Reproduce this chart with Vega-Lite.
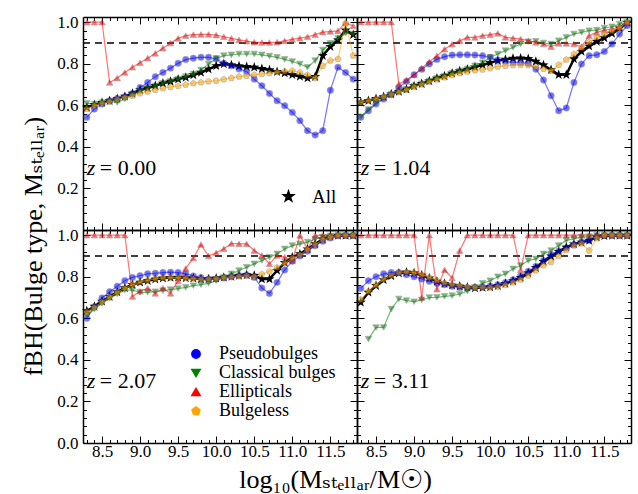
{
"$schema": "https://vega.github.io/schema/vega-lite/v6.json",
"padding": {"left": 20, "top": 13, "right": 5, "bottom": 4},
"background": "white",
"bounds": "flush",
"spacing": 0,
"columns": 2,
"config": {
  "font": "'Liberation Serif', 'Times New Roman', 'DejaVu Serif', serif",
  "view": {"stroke": null},
  "axis": {"grid": false, "domainColor": "black", "domainWidth": 1.5, "tickColor": "black", "tickWidth": 1, "labelColor": "black", "labelFont": "'Liberation Serif', 'Times New Roman', 'DejaVu Serif', serif", "labelFontSize": 17, "titleFont": "'Liberation Serif', 'Times New Roman', 'DejaVu Serif', serif", "titleFontWeight": "normal", "titleColor": "black"},
  "legend": {"labelFont": "'Liberation Serif', 'Times New Roman', 'DejaVu Serif', serif"},
  "text": {"font": "'Liberation Serif', 'Times New Roman', 'DejaVu Serif', serif", "fontSize": 22, "color": "black"}
},
"resolve": {"legend": {"color": "independent", "shape": "independent"}},
"datasets": {
"a": [
{"s":"P","x":8.3,"y":0.542},{"s":"P","x":8.4,"y":0.582},{"s":"P","x":8.5,"y":0.606},{"s":"P","x":8.6,"y":0.622},{"s":"P","x":8.7,"y":0.633},{"s":"P","x":8.8,"y":0.642},{"s":"P","x":8.9,"y":0.657},{"s":"P","x":9,"y":0.686},{"s":"P","x":9.1,"y":0.71},{"s":"P","x":9.2,"y":0.738},{"s":"P","x":9.3,"y":0.758},{"s":"P","x":9.4,"y":0.779},{"s":"P","x":9.5,"y":0.802},{"s":"P","x":9.6,"y":0.82},{"s":"P","x":9.7,"y":0.827},{"s":"P","x":9.8,"y":0.831},{"s":"P","x":9.9,"y":0.831},{"s":"P","x":10,"y":0.823},{"s":"P","x":10.1,"y":0.802},{"s":"P","x":10.2,"y":0.79},{"s":"P","x":10.3,"y":0.775},{"s":"P","x":10.4,"y":0.762},{"s":"P","x":10.5,"y":0.726},{"s":"P","x":10.6,"y":0.694},{"s":"P","x":10.7,"y":0.657},{"s":"P","x":10.8,"y":0.622},{"s":"P","x":10.9,"y":0.598},{"s":"P","x":11,"y":0.566},{"s":"P","x":11.1,"y":0.526},{"s":"P","x":11.2,"y":0.478},{"s":"P","x":11.3,"y":0.457},{"s":"P","x":11.4,"y":0.478},{"s":"P","x":11.5,"y":0.673},{"s":"P","x":11.6,"y":0.783},{"s":"P","x":11.7,"y":0.758},{"s":"P","x":11.8,"y":0.726},
{"s":"C","x":8.3,"y":0.609},{"s":"C","x":8.4,"y":0.606},{"s":"C","x":8.5,"y":0.613},{"s":"C","x":8.6,"y":0.619},{"s":"C","x":8.7,"y":0.613},{"s":"C","x":8.8,"y":0.63},{"s":"C","x":8.9,"y":0.651},{"s":"C","x":9,"y":0.667},{"s":"C","x":9.1,"y":0.682},{"s":"C","x":9.2,"y":0.693},{"s":"C","x":9.3,"y":0.706},{"s":"C","x":9.4,"y":0.715},{"s":"C","x":9.5,"y":0.726},{"s":"C","x":9.6,"y":0.738},{"s":"C","x":9.7,"y":0.75},{"s":"C","x":9.8,"y":0.77},{"s":"C","x":9.9,"y":0.799},{"s":"C","x":10,"y":0.826},{"s":"C","x":10.1,"y":0.839},{"s":"C","x":10.2,"y":0.843},{"s":"C","x":10.3,"y":0.847},{"s":"C","x":10.4,"y":0.847},{"s":"C","x":10.5,"y":0.847},{"s":"C","x":10.6,"y":0.843},{"s":"C","x":10.7,"y":0.837},{"s":"C","x":10.8,"y":0.831},{"s":"C","x":10.9,"y":0.821},{"s":"C","x":11,"y":0.811},{"s":"C","x":11.1,"y":0.799},{"s":"C","x":11.2,"y":0.783},{"s":"C","x":11.3,"y":0.815},{"s":"C","x":11.4,"y":0.866},{"s":"C","x":11.5,"y":0.898},{"s":"C","x":11.6,"y":0.922},{"s":"C","x":11.7,"y":0.946},{"s":"C","x":11.8,"y":0.943},
{"s":"E","x":8.3,"y":1.0},{"s":"E","x":8.4,"y":1.0},{"s":"E","x":8.5,"y":1.0},{"s":"E","x":8.6,"y":0.71},{"s":"E","x":8.7,"y":0.731},{"s":"E","x":8.8,"y":0.758},{"s":"E","x":8.9,"y":0.783},{"s":"E","x":9,"y":0.805},{"s":"E","x":9.1,"y":0.827},{"s":"E","x":9.2,"y":0.85},{"s":"E","x":9.3,"y":0.875},{"s":"E","x":9.4,"y":0.9},{"s":"E","x":9.5,"y":0.922},{"s":"E","x":9.6,"y":0.935},{"s":"E","x":9.7,"y":0.94},{"s":"E","x":9.8,"y":0.941},{"s":"E","x":9.9,"y":0.941},{"s":"E","x":10,"y":0.938},{"s":"E","x":10.1,"y":0.93},{"s":"E","x":10.2,"y":0.922},{"s":"E","x":10.3,"y":0.915},{"s":"E","x":10.4,"y":0.909},{"s":"E","x":10.5,"y":0.904},{"s":"E","x":10.6,"y":0.902},{"s":"E","x":10.7,"y":0.902},{"s":"E","x":10.8,"y":0.904},{"s":"E","x":10.9,"y":0.91},{"s":"E","x":11,"y":0.917},{"s":"E","x":11.1,"y":0.923},{"s":"E","x":11.2,"y":0.93},{"s":"E","x":11.3,"y":0.94},{"s":"E","x":11.4,"y":0.952},{"s":"E","x":11.5,"y":0.955},{"s":"E","x":11.6,"y":0.958},{"s":"E","x":11.7,"y":0.999},{"s":"E","x":11.8,"y":0.982},
{"s":"B","x":8.3,"y":0.582},{"s":"B","x":8.4,"y":0.598},{"s":"B","x":8.5,"y":0.609},{"s":"B","x":8.6,"y":0.617},{"s":"B","x":8.7,"y":0.629},{"s":"B","x":8.8,"y":0.638},{"s":"B","x":8.9,"y":0.646},{"s":"B","x":9,"y":0.657},{"s":"B","x":9.1,"y":0.666},{"s":"B","x":9.2,"y":0.674},{"s":"B","x":9.3,"y":0.682},{"s":"B","x":9.4,"y":0.688},{"s":"B","x":9.5,"y":0.693},{"s":"B","x":9.6,"y":0.699},{"s":"B","x":9.7,"y":0.706},{"s":"B","x":9.8,"y":0.71},{"s":"B","x":9.9,"y":0.715},{"s":"B","x":10,"y":0.718},{"s":"B","x":10.1,"y":0.725},{"s":"B","x":10.2,"y":0.731},{"s":"B","x":10.3,"y":0.738},{"s":"B","x":10.4,"y":0.742},{"s":"B","x":10.5,"y":0.747},{"s":"B","x":10.6,"y":0.75},{"s":"B","x":10.7,"y":0.755},{"s":"B","x":10.8,"y":0.76},{"s":"B","x":10.9,"y":0.763},{"s":"B","x":11,"y":0.766},{"s":"B","x":11.1,"y":0.758},{"s":"B","x":11.2,"y":0.746},{"s":"B","x":11.3,"y":0.731},{"s":"B","x":11.4,"y":0.79},{"s":"B","x":11.5,"y":0.815},{"s":"B","x":11.6,"y":0.823},{"s":"B","x":11.7,"y":0.994},{"s":"B","x":11.8,"y":0.839},
{"s":"A","x":8.3,"y":0.59},{"s":"A","x":8.4,"y":0.603},{"s":"A","x":8.5,"y":0.613},{"s":"A","x":8.6,"y":0.622},{"s":"A","x":8.7,"y":0.632},{"s":"A","x":8.8,"y":0.643},{"s":"A","x":8.9,"y":0.657},{"s":"A","x":9,"y":0.674},{"s":"A","x":9.1,"y":0.683},{"s":"A","x":9.2,"y":0.694},{"s":"A","x":9.3,"y":0.706},{"s":"A","x":9.4,"y":0.715},{"s":"A","x":9.5,"y":0.726},{"s":"A","x":9.6,"y":0.734},{"s":"A","x":9.7,"y":0.746},{"s":"A","x":9.8,"y":0.758},{"s":"A","x":9.9,"y":0.774},{"s":"A","x":10,"y":0.79},{"s":"A","x":10.1,"y":0.799},{"s":"A","x":10.2,"y":0.794},{"s":"A","x":10.3,"y":0.789},{"s":"A","x":10.4,"y":0.786},{"s":"A","x":10.5,"y":0.783},{"s":"A","x":10.6,"y":0.776},{"s":"A","x":10.7,"y":0.77},{"s":"A","x":10.8,"y":0.762},{"s":"A","x":10.9,"y":0.755},{"s":"A","x":11,"y":0.747},{"s":"A","x":11.1,"y":0.739},{"s":"A","x":11.2,"y":0.731},{"s":"A","x":11.3,"y":0.738},{"s":"A","x":11.4,"y":0.839},{"s":"A","x":11.5,"y":0.882},{"s":"A","x":11.6,"y":0.914},{"s":"A","x":11.7,"y":0.962},{"s":"A","x":11.8,"y":0.94}
],
"b": [
{"s":"P","x":8.3,"y":0.542},{"s":"P","x":8.4,"y":0.574},{"s":"P","x":8.5,"y":0.606},{"s":"P","x":8.6,"y":0.63},{"s":"P","x":8.7,"y":0.651},{"s":"P","x":8.8,"y":0.686},{"s":"P","x":8.9,"y":0.715},{"s":"P","x":9,"y":0.747},{"s":"P","x":9.1,"y":0.773},{"s":"P","x":9.2,"y":0.799},{"s":"P","x":9.3,"y":0.821},{"s":"P","x":9.4,"y":0.834},{"s":"P","x":9.5,"y":0.842},{"s":"P","x":9.6,"y":0.843},{"s":"P","x":9.7,"y":0.843},{"s":"P","x":9.8,"y":0.842},{"s":"P","x":9.9,"y":0.839},{"s":"P","x":10,"y":0.831},{"s":"P","x":10.1,"y":0.818},{"s":"P","x":10.2,"y":0.811},{"s":"P","x":10.3,"y":0.806},{"s":"P","x":10.4,"y":0.806},{"s":"P","x":10.5,"y":0.802},{"s":"P","x":10.6,"y":0.774},{"s":"P","x":10.7,"y":0.722},{"s":"P","x":10.8,"y":0.646},{"s":"P","x":10.9,"y":0.574},{"s":"P","x":11,"y":0.587},{"s":"P","x":11.1,"y":0.71},{"s":"P","x":11.2,"y":0.799},{"s":"P","x":11.3,"y":0.839},{"s":"P","x":11.4,"y":0.843},{"s":"P","x":11.5,"y":0.859},{"s":"P","x":11.6,"y":0.895},{"s":"P","x":11.7,"y":0.943},{"s":"P","x":11.8,"y":0.983},
{"s":"C","x":8.3,"y":0.545},{"s":"C","x":8.4,"y":0.58},{"s":"C","x":8.5,"y":0.612},{"s":"C","x":8.6,"y":0.635},{"s":"C","x":8.7,"y":0.652},{"s":"C","x":8.8,"y":0.666},{"s":"C","x":8.9,"y":0.677},{"s":"C","x":9,"y":0.693},{"s":"C","x":9.1,"y":0.704},{"s":"C","x":9.2,"y":0.717},{"s":"C","x":9.3,"y":0.73},{"s":"C","x":9.4,"y":0.741},{"s":"C","x":9.5,"y":0.754},{"s":"C","x":9.6,"y":0.765},{"s":"C","x":9.7,"y":0.775},{"s":"C","x":9.8,"y":0.79},{"s":"C","x":9.9,"y":0.805},{"s":"C","x":10,"y":0.831},{"s":"C","x":10.1,"y":0.847},{"s":"C","x":10.2,"y":0.863},{"s":"C","x":10.3,"y":0.879},{"s":"C","x":10.4,"y":0.895},{"s":"C","x":10.5,"y":0.906},{"s":"C","x":10.6,"y":0.908},{"s":"C","x":10.7,"y":0.9},{"s":"C","x":10.8,"y":0.895},{"s":"C","x":10.9,"y":0.911},{"s":"C","x":11,"y":0.927},{"s":"C","x":11.1,"y":0.943},{"s":"C","x":11.2,"y":0.951},{"s":"C","x":11.3,"y":0.959},{"s":"C","x":11.4,"y":0.962},{"s":"C","x":11.5,"y":0.972},{"s":"C","x":11.6,"y":0.978},{"s":"C","x":11.7,"y":0.991},{"s":"C","x":11.8,"y":0.999},
{"s":"E","x":8.3,"y":1.0},{"s":"E","x":8.4,"y":1.0},{"s":"E","x":8.5,"y":1.0},{"s":"E","x":8.6,"y":1.0},{"s":"E","x":8.7,"y":1.0},{"s":"E","x":8.8,"y":0.702},{"s":"E","x":8.9,"y":0.722},{"s":"E","x":9,"y":0.747},{"s":"E","x":9.1,"y":0.779},{"s":"E","x":9.2,"y":0.81},{"s":"E","x":9.3,"y":0.838},{"s":"E","x":9.4,"y":0.87},{"s":"E","x":9.5,"y":0.894},{"s":"E","x":9.6,"y":0.91},{"s":"E","x":9.7,"y":0.927},{"s":"E","x":9.8,"y":0.927},{"s":"E","x":9.9,"y":0.935},{"s":"E","x":10,"y":0.94},{"s":"E","x":10.1,"y":0.946},{"s":"E","x":10.2,"y":0.927},{"s":"E","x":10.3,"y":0.923},{"s":"E","x":10.4,"y":0.919},{"s":"E","x":10.5,"y":0.911},{"s":"E","x":10.6,"y":0.903},{"s":"E","x":10.7,"y":0.895},{"s":"E","x":10.8,"y":0.882},{"s":"E","x":10.9,"y":0.898},{"s":"E","x":11,"y":0.898},{"s":"E","x":11.1,"y":0.895},{"s":"E","x":11.2,"y":0.882},{"s":"E","x":11.3,"y":0.935},{"s":"E","x":11.4,"y":0.951},{"s":"E","x":11.5,"y":0.962},{"s":"E","x":11.6,"y":0.967},{"s":"E","x":11.7,"y":0.975},{"s":"E","x":11.8,"y":0.999},
{"s":"B","x":8.3,"y":0.614},{"s":"B","x":8.4,"y":0.622},{"s":"B","x":8.5,"y":0.632},{"s":"B","x":8.6,"y":0.641},{"s":"B","x":8.7,"y":0.652},{"s":"B","x":8.8,"y":0.663},{"s":"B","x":8.9,"y":0.674},{"s":"B","x":9,"y":0.688},{"s":"B","x":9.1,"y":0.7},{"s":"B","x":9.2,"y":0.712},{"s":"B","x":9.3,"y":0.724},{"s":"B","x":9.4,"y":0.734},{"s":"B","x":9.5,"y":0.745},{"s":"B","x":9.6,"y":0.754},{"s":"B","x":9.7,"y":0.762},{"s":"B","x":9.8,"y":0.768},{"s":"B","x":9.9,"y":0.772},{"s":"B","x":10,"y":0.778},{"s":"B","x":10.1,"y":0.786},{"s":"B","x":10.2,"y":0.79},{"s":"B","x":10.3,"y":0.793},{"s":"B","x":10.4,"y":0.795},{"s":"B","x":10.5,"y":0.793},{"s":"B","x":10.6,"y":0.785},{"s":"B","x":10.7,"y":0.775},{"s":"B","x":10.8,"y":0.766},{"s":"B","x":10.9,"y":0.795},{"s":"B","x":11,"y":0.82},{"s":"B","x":11.1,"y":0.846},{"s":"B","x":11.2,"y":0.878},{"s":"B","x":11.3,"y":0.903},{"s":"B","x":11.4,"y":0.927},{"s":"B","x":11.5,"y":0.943},{"s":"B","x":11.6,"y":0.959},{"s":"B","x":11.7,"y":0.975},{"s":"B","x":11.8,"y":0.999},
{"s":"A","x":8.3,"y":0.614},{"s":"A","x":8.4,"y":0.622},{"s":"A","x":8.5,"y":0.632},{"s":"A","x":8.6,"y":0.641},{"s":"A","x":8.7,"y":0.654},{"s":"A","x":8.8,"y":0.666},{"s":"A","x":8.9,"y":0.677},{"s":"A","x":9,"y":0.693},{"s":"A","x":9.1,"y":0.704},{"s":"A","x":9.2,"y":0.717},{"s":"A","x":9.3,"y":0.73},{"s":"A","x":9.4,"y":0.741},{"s":"A","x":9.5,"y":0.754},{"s":"A","x":9.6,"y":0.765},{"s":"A","x":9.7,"y":0.773},{"s":"A","x":9.8,"y":0.784},{"s":"A","x":9.9,"y":0.794},{"s":"A","x":10,"y":0.805},{"s":"A","x":10.1,"y":0.815},{"s":"A","x":10.2,"y":0.821},{"s":"A","x":10.3,"y":0.826},{"s":"A","x":10.4,"y":0.827},{"s":"A","x":10.5,"y":0.824},{"s":"A","x":10.6,"y":0.811},{"s":"A","x":10.7,"y":0.794},{"s":"A","x":10.8,"y":0.771},{"s":"A","x":10.9,"y":0.747},{"s":"A","x":11,"y":0.747},{"s":"A","x":11.1,"y":0.823},{"s":"A","x":11.2,"y":0.859},{"s":"A","x":11.3,"y":0.885},{"s":"A","x":11.4,"y":0.907},{"s":"A","x":11.5,"y":0.924},{"s":"A","x":11.6,"y":0.946},{"s":"A","x":11.7,"y":0.972},{"s":"A","x":11.8,"y":0.999}
],
"c": [
{"s":"P","x":8.3,"y":0.6},{"s":"P","x":8.4,"y":0.656},{"s":"P","x":8.5,"y":0.698},{"s":"P","x":8.6,"y":0.728},{"s":"P","x":8.7,"y":0.754},{"s":"P","x":8.8,"y":0.781},{"s":"P","x":8.9,"y":0.797},{"s":"P","x":9,"y":0.805},{"s":"P","x":9.1,"y":0.814},{"s":"P","x":9.2,"y":0.817},{"s":"P","x":9.3,"y":0.82},{"s":"P","x":9.4,"y":0.822},{"s":"P","x":9.5,"y":0.82},{"s":"P","x":9.6,"y":0.814},{"s":"P","x":9.7,"y":0.804},{"s":"P","x":9.8,"y":0.796},{"s":"P","x":9.9,"y":0.789},{"s":"P","x":10,"y":0.789},{"s":"P","x":10.1,"y":0.794},{"s":"P","x":10.2,"y":0.801},{"s":"P","x":10.3,"y":0.806},{"s":"P","x":10.4,"y":0.809},{"s":"P","x":10.5,"y":0.797},{"s":"P","x":10.6,"y":0.746},{"s":"P","x":10.7,"y":0.72},{"s":"P","x":10.8,"y":0.773},{"s":"P","x":10.9,"y":0.833},{"s":"P","x":11,"y":0.875},{"s":"P","x":11.1,"y":0.9},{"s":"P","x":11.2,"y":0.923},{"s":"P","x":11.3,"y":0.949},{"s":"P","x":11.4,"y":0.971},{"s":"P","x":11.5,"y":0.987},{"s":"P","x":11.6,"y":0.997},{"s":"P","x":11.7,"y":0.999},{"s":"P","x":11.8,"y":0.999},
{"s":"C","x":8.3,"y":0.615},{"s":"C","x":8.4,"y":0.644},{"s":"C","x":8.5,"y":0.672},{"s":"C","x":8.6,"y":0.696},{"s":"C","x":8.7,"y":0.717},{"s":"C","x":8.8,"y":0.736},{"s":"C","x":8.9,"y":0.736},{"s":"C","x":9,"y":0.725},{"s":"C","x":9.1,"y":0.725},{"s":"C","x":9.2,"y":0.728},{"s":"C","x":9.3,"y":0.733},{"s":"C","x":9.4,"y":0.738},{"s":"C","x":9.5,"y":0.743},{"s":"C","x":9.6,"y":0.749},{"s":"C","x":9.7,"y":0.757},{"s":"C","x":9.8,"y":0.762},{"s":"C","x":9.9,"y":0.768},{"s":"C","x":10,"y":0.781},{"s":"C","x":10.1,"y":0.797},{"s":"C","x":10.2,"y":0.814},{"s":"C","x":10.3,"y":0.83},{"s":"C","x":10.4,"y":0.846},{"s":"C","x":10.5,"y":0.862},{"s":"C","x":10.6,"y":0.878},{"s":"C","x":10.7,"y":0.894},{"s":"C","x":10.8,"y":0.91},{"s":"C","x":10.9,"y":0.934},{"s":"C","x":11,"y":0.95},{"s":"C","x":11.1,"y":0.958},{"s":"C","x":11.2,"y":0.967},{"s":"C","x":11.3,"y":0.981},{"s":"C","x":11.4,"y":0.991},{"s":"C","x":11.5,"y":0.997},{"s":"C","x":11.6,"y":0.999},{"s":"C","x":11.7,"y":0.999},{"s":"C","x":11.8,"y":0.999},
{"s":"E","x":8.3,"y":1.0},{"s":"E","x":8.4,"y":1.0},{"s":"E","x":8.5,"y":1.0},{"s":"E","x":8.6,"y":1.0},{"s":"E","x":8.7,"y":1.0},{"s":"E","x":8.8,"y":1.0},{"s":"E","x":8.9,"y":0.705},{"s":"E","x":9,"y":0.73},{"s":"E","x":9.1,"y":0.745},{"s":"E","x":9.2,"y":0.72},{"s":"E","x":9.3,"y":0.745},{"s":"E","x":9.4,"y":0.72},{"s":"E","x":9.5,"y":0.78},{"s":"E","x":9.6,"y":0.84},{"s":"E","x":9.7,"y":0.89},{"s":"E","x":9.8,"y":0.955},{"s":"E","x":9.9,"y":0.9},{"s":"E","x":10,"y":0.915},{"s":"E","x":10.1,"y":0.935},{"s":"E","x":10.2,"y":0.96},{"s":"E","x":10.3,"y":0.958},{"s":"E","x":10.4,"y":0.958},{"s":"E","x":10.5,"y":0.926},{"s":"E","x":10.6,"y":0.902},{"s":"E","x":10.7,"y":0.862},{"s":"E","x":10.8,"y":0.902},{"s":"E","x":10.9,"y":0.894},{"s":"E","x":11,"y":0.878},{"s":"E","x":11.1,"y":0.999},{"s":"E","x":11.2,"y":0.934},{"s":"E","x":11.3,"y":0.999},{"s":"E","x":11.4,"y":0.999},{"s":"E","x":11.5,"y":0.999},{"s":"E","x":11.6,"y":0.999},{"s":"E","x":11.7,"y":0.999},{"s":"E","x":11.8,"y":0.999},
{"s":"B","x":8.3,"y":0.63},{"s":"B","x":8.4,"y":0.652},{"s":"B","x":8.5,"y":0.678},{"s":"B","x":8.6,"y":0.702},{"s":"B","x":8.7,"y":0.725},{"s":"B","x":8.8,"y":0.745},{"s":"B","x":8.9,"y":0.762},{"s":"B","x":9,"y":0.774},{"s":"B","x":9.1,"y":0.783},{"s":"B","x":9.2,"y":0.79},{"s":"B","x":9.3,"y":0.794},{"s":"B","x":9.4,"y":0.796},{"s":"B","x":9.5,"y":0.796},{"s":"B","x":9.6,"y":0.793},{"s":"B","x":9.7,"y":0.791},{"s":"B","x":9.8,"y":0.788},{"s":"B","x":9.9,"y":0.788},{"s":"B","x":10,"y":0.791},{"s":"B","x":10.1,"y":0.795},{"s":"B","x":10.2,"y":0.798},{"s":"B","x":10.3,"y":0.802},{"s":"B","x":10.4,"y":0.805},{"s":"B","x":10.5,"y":0.8},{"s":"B","x":10.6,"y":0.812},{"s":"B","x":10.7,"y":0.825},{"s":"B","x":10.8,"y":0.845},{"s":"B","x":10.9,"y":0.865},{"s":"B","x":11,"y":0.89},{"s":"B","x":11.1,"y":0.905},{"s":"B","x":11.2,"y":0.93},{"s":"B","x":11.3,"y":0.955},{"s":"B","x":11.4,"y":0.978},{"s":"B","x":11.5,"y":0.99},{"s":"B","x":11.6,"y":0.999},{"s":"B","x":11.7,"y":0.999},{"s":"B","x":11.8,"y":0.999},
{"s":"A","x":8.3,"y":0.636},{"s":"A","x":8.4,"y":0.657},{"s":"A","x":8.5,"y":0.682},{"s":"A","x":8.6,"y":0.704},{"s":"A","x":8.7,"y":0.727},{"s":"A","x":8.8,"y":0.746},{"s":"A","x":8.9,"y":0.762},{"s":"A","x":9,"y":0.773},{"s":"A","x":9.1,"y":0.781},{"s":"A","x":9.2,"y":0.788},{"s":"A","x":9.3,"y":0.793},{"s":"A","x":9.4,"y":0.796},{"s":"A","x":9.5,"y":0.797},{"s":"A","x":9.6,"y":0.794},{"s":"A","x":9.7,"y":0.793},{"s":"A","x":9.8,"y":0.789},{"s":"A","x":9.9,"y":0.789},{"s":"A","x":10,"y":0.793},{"s":"A","x":10.1,"y":0.797},{"s":"A","x":10.2,"y":0.801},{"s":"A","x":10.3,"y":0.806},{"s":"A","x":10.4,"y":0.809},{"s":"A","x":10.5,"y":0.806},{"s":"A","x":10.6,"y":0.789},{"s":"A","x":10.7,"y":0.789},{"s":"A","x":10.8,"y":0.83},{"s":"A","x":10.9,"y":0.868},{"s":"A","x":11,"y":0.894},{"s":"A","x":11.1,"y":0.91},{"s":"A","x":11.2,"y":0.933},{"s":"A","x":11.3,"y":0.958},{"s":"A","x":11.4,"y":0.981},{"s":"A","x":11.5,"y":0.994},{"s":"A","x":11.6,"y":0.999},{"s":"A","x":11.7,"y":0.999},{"s":"A","x":11.8,"y":0.999}
],
"d": [
{"s":"P","x":8.3,"y":0.744},{"s":"P","x":8.4,"y":0.781},{"s":"P","x":8.5,"y":0.8},{"s":"P","x":8.6,"y":0.814},{"s":"P","x":8.7,"y":0.82},{"s":"P","x":8.8,"y":0.82},{"s":"P","x":8.9,"y":0.81},{"s":"P","x":9,"y":0.8},{"s":"P","x":9.1,"y":0.789},{"s":"P","x":9.2,"y":0.778},{"s":"P","x":9.3,"y":0.768},{"s":"P","x":9.4,"y":0.762},{"s":"P","x":9.5,"y":0.754},{"s":"P","x":9.6,"y":0.749},{"s":"P","x":9.7,"y":0.746},{"s":"P","x":9.8,"y":0.748},{"s":"P","x":9.9,"y":0.751},{"s":"P","x":10,"y":0.756},{"s":"P","x":10.1,"y":0.762},{"s":"P","x":10.2,"y":0.772},{"s":"P","x":10.3,"y":0.786},{"s":"P","x":10.4,"y":0.804},{"s":"P","x":10.5,"y":0.826},{"s":"P","x":10.6,"y":0.85},{"s":"P","x":10.7,"y":0.878},{"s":"P","x":10.8,"y":0.907},{"s":"P","x":10.9,"y":0.923},{"s":"P","x":11,"y":0.939},{"s":"P","x":11.1,"y":0.955},{"s":"P","x":11.2,"y":0.968},{"s":"P","x":11.3,"y":0.975},{"s":"P","x":11.4,"y":0.994},{"s":"P","x":11.5,"y":0.999},{"s":"P","x":11.6,"y":0.999},{"s":"P","x":11.7,"y":0.999},{"s":"P","x":11.8,"y":0.999},
{"s":"C","x":8.4,"y":0.5},{"s":"C","x":8.5,"y":0.556},{"s":"C","x":8.6,"y":0.556},{"s":"C","x":8.7,"y":0.644},{"s":"C","x":8.8,"y":0.693},{"s":"C","x":8.9,"y":0.685},{"s":"C","x":9,"y":0.68},{"s":"C","x":9.1,"y":0.688},{"s":"C","x":9.2,"y":0.7},{"s":"C","x":9.3,"y":0.701},{"s":"C","x":9.4,"y":0.706},{"s":"C","x":9.5,"y":0.709},{"s":"C","x":9.6,"y":0.717},{"s":"C","x":9.7,"y":0.73},{"s":"C","x":9.8,"y":0.749},{"s":"C","x":9.9,"y":0.768},{"s":"C","x":10,"y":0.781},{"s":"C","x":10.1,"y":0.8},{"s":"C","x":10.2,"y":0.814},{"s":"C","x":10.3,"y":0.838},{"s":"C","x":10.4,"y":0.854},{"s":"C","x":10.5,"y":0.878},{"s":"C","x":10.6,"y":0.886},{"s":"C","x":10.7,"y":0.91},{"s":"C","x":10.8,"y":0.926},{"s":"C","x":10.9,"y":0.95},{"s":"C","x":11,"y":0.975},{"s":"C","x":11.1,"y":0.983},{"s":"C","x":11.2,"y":0.991},{"s":"C","x":11.3,"y":0.994},{"s":"C","x":11.4,"y":0.999},{"s":"C","x":11.5,"y":0.999},{"s":"C","x":11.6,"y":0.999},{"s":"C","x":11.7,"y":0.999},{"s":"C","x":11.8,"y":0.999},
{"s":"E","x":8.3,"y":1.0},{"s":"E","x":8.4,"y":1.0},{"s":"E","x":8.5,"y":1.0},{"s":"E","x":8.6,"y":1.0},{"s":"E","x":8.7,"y":1.0},{"s":"E","x":8.8,"y":1.0},{"s":"E","x":8.9,"y":1.0},{"s":"E","x":9,"y":1.0},{"s":"E","x":9.1,"y":0.7},{"s":"E","x":9.2,"y":1.0},{"s":"E","x":9.3,"y":0.74},{"s":"E","x":9.4,"y":0.833},{"s":"E","x":9.5,"y":0.794},{"s":"E","x":9.6,"y":0.926},{"s":"E","x":9.7,"y":1.0},{"s":"E","x":9.8,"y":1.0},{"s":"E","x":9.9,"y":1.0},{"s":"E","x":10,"y":1.0},{"s":"E","x":10.1,"y":1.0},{"s":"E","x":10.2,"y":1.0},{"s":"E","x":10.3,"y":1.0},{"s":"E","x":10.4,"y":0.833},{"s":"E","x":10.5,"y":1.0},{"s":"E","x":10.6,"y":1.0},{"s":"E","x":10.7,"y":1.0},{"s":"E","x":10.8,"y":1.0},{"s":"E","x":10.9,"y":1.0},{"s":"E","x":11,"y":1.0},{"s":"E","x":11.1,"y":1.0},{"s":"E","x":11.2,"y":1.0},{"s":"E","x":11.3,"y":1.0},{"s":"E","x":11.4,"y":1.0},{"s":"E","x":11.5,"y":1.0},{"s":"E","x":11.6,"y":1.0},{"s":"E","x":11.7,"y":1.0},{"s":"E","x":11.8,"y":1.0},
{"s":"B","x":8.3,"y":0.69},{"s":"B","x":8.4,"y":0.73},{"s":"B","x":8.5,"y":0.76},{"s":"B","x":8.6,"y":0.787},{"s":"B","x":8.7,"y":0.806},{"s":"B","x":8.8,"y":0.819},{"s":"B","x":8.9,"y":0.823},{"s":"B","x":9,"y":0.82},{"s":"B","x":9.1,"y":0.81},{"s":"B","x":9.2,"y":0.797},{"s":"B","x":9.3,"y":0.782},{"s":"B","x":9.4,"y":0.77},{"s":"B","x":9.5,"y":0.762},{"s":"B","x":9.6,"y":0.756},{"s":"B","x":9.7,"y":0.751},{"s":"B","x":9.8,"y":0.748},{"s":"B","x":9.9,"y":0.748},{"s":"B","x":10,"y":0.748},{"s":"B","x":10.1,"y":0.752},{"s":"B","x":10.2,"y":0.76},{"s":"B","x":10.3,"y":0.772},{"s":"B","x":10.4,"y":0.786},{"s":"B","x":10.5,"y":0.806},{"s":"B","x":10.6,"y":0.83},{"s":"B","x":10.7,"y":0.855},{"s":"B","x":10.8,"y":0.87},{"s":"B","x":10.9,"y":0.9},{"s":"B","x":11,"y":0.928},{"s":"B","x":11.1,"y":0.95},{"s":"B","x":11.2,"y":0.96},{"s":"B","x":11.3,"y":0.926},{"s":"B","x":11.4,"y":0.985},{"s":"B","x":11.5,"y":0.999},{"s":"B","x":11.6,"y":0.999},{"s":"B","x":11.7,"y":0.999},{"s":"B","x":11.8,"y":0.999},
{"s":"A","x":8.3,"y":0.677},{"s":"A","x":8.4,"y":0.725},{"s":"A","x":8.5,"y":0.757},{"s":"A","x":8.6,"y":0.785},{"s":"A","x":8.7,"y":0.804},{"s":"A","x":8.8,"y":0.817},{"s":"A","x":8.9,"y":0.822},{"s":"A","x":9,"y":0.818},{"s":"A","x":9.1,"y":0.807},{"s":"A","x":9.2,"y":0.793},{"s":"A","x":9.3,"y":0.778},{"s":"A","x":9.4,"y":0.767},{"s":"A","x":9.5,"y":0.759},{"s":"A","x":9.6,"y":0.754},{"s":"A","x":9.7,"y":0.749},{"s":"A","x":9.8,"y":0.746},{"s":"A","x":9.9,"y":0.748},{"s":"A","x":10,"y":0.751},{"s":"A","x":10.1,"y":0.757},{"s":"A","x":10.2,"y":0.767},{"s":"A","x":10.3,"y":0.78},{"s":"A","x":10.4,"y":0.796},{"s":"A","x":10.5,"y":0.818},{"s":"A","x":10.6,"y":0.843},{"s":"A","x":10.7,"y":0.873},{"s":"A","x":10.8,"y":0.899},{"s":"A","x":10.9,"y":0.921},{"s":"A","x":11,"y":0.942},{"s":"A","x":11.1,"y":0.957},{"s":"A","x":11.2,"y":0.965},{"s":"A","x":11.3,"y":0.975},{"s":"A","x":11.4,"y":0.991},{"s":"A","x":11.5,"y":0.997},{"s":"A","x":11.6,"y":0.999},{"s":"A","x":11.7,"y":0.999},{"s":"A","x":11.8,"y":0.999}
]
},
"concat": [
{"width": 274, "height": 213, "data": {"name": "a"},
 "resolve": {"axis": {"x": "independent", "y": "independent"}},
 "layer": [
  {"data": {"values": [{"x1": 8.25, "x2": 11.85, "y": 0.9}]},
   "mark": {"type": "rule", "strokeDash": [7, 5], "strokeWidth": 1.5, "color": "black"},
   "encoding": {
    "x": {"field": "x1", "type": "quantitative", "scale": {"domain": [8.25, 11.85], "nice": false, "zero": false}, "axis": {"orient": "bottom", "values": [8.5, 9, 9.5, 10, 10.5, 11, 11.5], "labels": false, "tickSize": -7, "title": null}},
    "x2": {"field": "x2"},
    "y": {"field": "y", "type": "quantitative", "scale": {"domain": [0, 1.025], "nice": false}, "axis": {"orient": "left", "values": [0, 0.2, 0.4, 0.6, 0.8, 1.0], "format": ".1f", "labelExpr": "datum.value < 0.01 ? '' : datum.label", "tickSize": -7, "labelPadding": 12, "title": "fBH(Bulge type, Mₛₜₑₗₗₐᵣ)", "titleFontSize": 26, "titleX": -42, "titleY": 229, "titleAlign": "center", "titleBaseline": "alphabetic", "titleAngle": -90}}
   }},
  {"transform": [{"filter": "datum.s == 'A'"}],
   "mark": {"type": "line", "color": "black", "strokeWidth": 2.5},
   "encoding": {
    "x": {"field": "x", "type": "quantitative", "axis": {"orient": "top", "values": [8.5, 9, 9.5, 10, 10.5, 11, 11.5], "labels": false, "tickSize": -7, "title": null}},
    "y": {"field": "y", "type": "quantitative", "axis": {"orient": "right", "values": [0, 0.2, 0.4, 0.6, 0.8, 1.0], "labels": false, "tickSize": -7, "title": null}}
   }},
  {"transform": [{"filter": "datum.s == 'A'"}],
   "mark": {"type": "point", "filled": true, "opacity": 1, "size": 110},
   "encoding": {
    "x": {"field": "x", "type": "quantitative", "axis": null},
    "y": {"field": "y", "type": "quantitative", "axis": null},
    "color": {"field": "s", "type": "nominal", "scale": {"domain": ["P", "C", "E", "B", "A"], "range": ["#0000ff", "#008000", "#ff0000", "#ffa500", "#000000"]}, "legend": {"values": ["A"], "orient": "none", "legendX": 196, "legendY": 170, "title": null, "labelExpr": "'All'", "labelFontSize": 19, "labelColor": "black", "labelOffset": 14, "symbolSize": 120, "symbolOpacity": 1}},
    "shape": {"field": "s", "type": "nominal", "scale": {"domain": ["P", "C", "E", "B", "A"], "range": ["circle", "triangle-down", "triangle-up", "M0,-1L0.951,-0.309L0.588,0.809L-0.588,0.809L-0.951,-0.309Z", "M0,-1L0.235,-0.324L0.951,-0.309L0.38,0.124L0.588,0.809L0,0.4L-0.588,0.809L-0.38,0.124L-0.951,-0.309L-0.235,-0.324Z"]}, "legend": {"values": ["A"], "orient": "none", "legendX": 196, "legendY": 170, "title": null, "labelExpr": "'All'", "labelFontSize": 19, "labelColor": "black", "labelOffset": 14, "symbolSize": 120, "symbolOpacity": 1}}
   }},
  {"transform": [{"filter": "datum.s != 'A'"}],
   "mark": {"type": "line", "strokeWidth": 1.2, "opacity": 0.55},
   "encoding": {
    "x": {"field": "x", "type": "quantitative", "axis": {"orient": "bottom", "values": [8.3, 8.4, 8.6, 8.7, 8.8, 8.9, 9.1, 9.2, 9.3, 9.4, 9.6, 9.7, 9.8, 9.9, 10.1, 10.2, 10.3, 10.4, 10.6, 10.7, 10.8, 10.9, 11.1, 11.2, 11.3, 11.4, 11.6, 11.7, 11.8], "labels": false, "domain": false, "tickSize": -3.5, "title": null}},
    "y": {"field": "y", "type": "quantitative", "axis": {"orient": "left", "values": [0.04, 0.08, 0.12, 0.16, 0.24, 0.28, 0.32, 0.36, 0.44, 0.48, 0.52, 0.56, 0.64, 0.68, 0.72, 0.76, 0.84, 0.88, 0.92, 0.96], "labels": false, "domain": false, "tickSize": -3.5, "title": null}},
    "color": {"field": "s", "type": "nominal", "legend": null}
   }},
  {"transform": [{"filter": "datum.s != 'A'"}],
   "mark": {"type": "point", "filled": true, "opacity": 0.55, "size": 42, "stroke": "#555555", "strokeWidth": 0.6},
   "encoding": {
    "x": {"field": "x", "type": "quantitative", "axis": {"orient": "top", "values": [8.3, 8.4, 8.6, 8.7, 8.8, 8.9, 9.1, 9.2, 9.3, 9.4, 9.6, 9.7, 9.8, 9.9, 10.1, 10.2, 10.3, 10.4, 10.6, 10.7, 10.8, 10.9, 11.1, 11.2, 11.3, 11.4, 11.6, 11.7, 11.8], "labels": false, "domain": false, "tickSize": -3.5, "title": null}},
    "y": {"field": "y", "type": "quantitative", "axis": {"orient": "right", "values": [0.04, 0.08, 0.12, 0.16, 0.24, 0.28, 0.32, 0.36, 0.44, 0.48, 0.52, 0.56, 0.64, 0.68, 0.72, 0.76, 0.84, 0.88, 0.92, 0.96], "labels": false, "domain": false, "tickSize": -3.5, "title": null}},
    "color": {"field": "s", "type": "nominal", "legend": null},
    "shape": {"field": "s", "type": "nominal", "legend": null}
   }},
  {"data": {"values": [{"t": "z"}]},
   "mark": {"type": "text", "align": "left", "baseline": "middle", "fontStyle": "italic"},
   "encoding": {"x": {"datum": 8.3, "type": "quantitative", "axis": null}, "y": {"datum": 0.3, "type": "quantitative", "axis": null}, "text": {"field": "t"}}},
  {"data": {"values": [{"t": "= 0.00"}]},
   "mark": {"type": "text", "align": "left", "baseline": "middle", "dx": 13},
   "encoding": {"x": {"datum": 8.3, "type": "quantitative", "axis": null}, "y": {"datum": 0.3, "type": "quantitative", "axis": null}, "text": {"field": "t"}}}
 ]},
{"width": 274, "height": 213, "data": {"name": "b"},
 "resolve": {"axis": {"x": "independent", "y": "independent"}},
 "layer": [
  {"data": {"values": [{"x1": 8.25, "x2": 11.85, "y": 0.9}]},
   "mark": {"type": "rule", "strokeDash": [7, 5], "strokeWidth": 1.5, "color": "black"},
   "encoding": {
    "x": {"field": "x1", "type": "quantitative", "scale": {"domain": [8.25, 11.85], "nice": false, "zero": false}, "axis": {"orient": "bottom", "values": [8.5, 9, 9.5, 10, 10.5, 11, 11.5], "labels": false, "tickSize": -7, "title": null}},
    "x2": {"field": "x2"},
    "y": {"field": "y", "type": "quantitative", "scale": {"domain": [0, 1.025], "nice": false}, "axis": {"orient": "left", "values": [0, 0.2, 0.4, 0.6, 0.8, 1.0], "labels": false, "tickSize": -7, "title": null}}
   }},
  {"transform": [{"filter": "datum.s == 'A'"}],
   "mark": {"type": "line", "color": "black", "strokeWidth": 2.5},
   "encoding": {
    "x": {"field": "x", "type": "quantitative", "axis": {"orient": "top", "values": [8.5, 9, 9.5, 10, 10.5, 11, 11.5], "labels": false, "tickSize": -7, "title": null}},
    "y": {"field": "y", "type": "quantitative", "axis": {"orient": "right", "values": [0, 0.2, 0.4, 0.6, 0.8, 1.0], "labels": false, "tickSize": -7, "title": null}}
   }},
  {"transform": [{"filter": "datum.s == 'A'"}],
   "mark": {"type": "point", "filled": true, "opacity": 1, "size": 110},
   "encoding": {
    "x": {"field": "x", "type": "quantitative", "axis": null},
    "y": {"field": "y", "type": "quantitative", "axis": null},
    "color": {"field": "s", "type": "nominal", "scale": {"domain": ["P", "C", "E", "B", "A"], "range": ["#0000ff", "#008000", "#ff0000", "#ffa500", "#000000"]}, "legend": null},
    "shape": {"field": "s", "type": "nominal", "scale": {"domain": ["P", "C", "E", "B", "A"], "range": ["circle", "triangle-down", "triangle-up", "M0,-1L0.951,-0.309L0.588,0.809L-0.588,0.809L-0.951,-0.309Z", "M0,-1L0.235,-0.324L0.951,-0.309L0.38,0.124L0.588,0.809L0,0.4L-0.588,0.809L-0.38,0.124L-0.951,-0.309L-0.235,-0.324Z"]}, "legend": null}
   }},
  {"transform": [{"filter": "datum.s != 'A'"}],
   "mark": {"type": "line", "strokeWidth": 1.2, "opacity": 0.55},
   "encoding": {
    "x": {"field": "x", "type": "quantitative", "axis": {"orient": "bottom", "values": [8.3, 8.4, 8.6, 8.7, 8.8, 8.9, 9.1, 9.2, 9.3, 9.4, 9.6, 9.7, 9.8, 9.9, 10.1, 10.2, 10.3, 10.4, 10.6, 10.7, 10.8, 10.9, 11.1, 11.2, 11.3, 11.4, 11.6, 11.7, 11.8], "labels": false, "domain": false, "tickSize": -3.5, "title": null}},
    "y": {"field": "y", "type": "quantitative", "axis": {"orient": "left", "values": [0.04, 0.08, 0.12, 0.16, 0.24, 0.28, 0.32, 0.36, 0.44, 0.48, 0.52, 0.56, 0.64, 0.68, 0.72, 0.76, 0.84, 0.88, 0.92, 0.96], "labels": false, "domain": false, "tickSize": -3.5, "title": null}},
    "color": {"field": "s", "type": "nominal", "legend": null}
   }},
  {"transform": [{"filter": "datum.s != 'A'"}],
   "mark": {"type": "point", "filled": true, "opacity": 0.55, "size": 42, "stroke": "#555555", "strokeWidth": 0.6},
   "encoding": {
    "x": {"field": "x", "type": "quantitative", "axis": {"orient": "top", "values": [8.3, 8.4, 8.6, 8.7, 8.8, 8.9, 9.1, 9.2, 9.3, 9.4, 9.6, 9.7, 9.8, 9.9, 10.1, 10.2, 10.3, 10.4, 10.6, 10.7, 10.8, 10.9, 11.1, 11.2, 11.3, 11.4, 11.6, 11.7, 11.8], "labels": false, "domain": false, "tickSize": -3.5, "title": null}},
    "y": {"field": "y", "type": "quantitative", "axis": {"orient": "right", "values": [0.04, 0.08, 0.12, 0.16, 0.24, 0.28, 0.32, 0.36, 0.44, 0.48, 0.52, 0.56, 0.64, 0.68, 0.72, 0.76, 0.84, 0.88, 0.92, 0.96], "labels": false, "domain": false, "tickSize": -3.5, "title": null}},
    "color": {"field": "s", "type": "nominal", "legend": null},
    "shape": {"field": "s", "type": "nominal", "legend": null}
   }},
  {"data": {"values": [{"t": "z"}]},
   "mark": {"type": "text", "align": "left", "baseline": "middle", "fontStyle": "italic"},
   "encoding": {"x": {"datum": 8.3, "type": "quantitative", "axis": null}, "y": {"datum": 0.3, "type": "quantitative", "axis": null}, "text": {"field": "t"}}},
  {"data": {"values": [{"t": "= 1.04"}]},
   "mark": {"type": "text", "align": "left", "baseline": "middle", "dx": 13},
   "encoding": {"x": {"datum": 8.3, "type": "quantitative", "axis": null}, "y": {"datum": 0.3, "type": "quantitative", "axis": null}, "text": {"field": "t"}}}
 ]},
{"width": 274, "height": 213, "data": {"name": "c"},
 "resolve": {"axis": {"x": "independent", "y": "independent"}},
 "layer": [
  {"data": {"values": [{"x1": 8.25, "x2": 11.85, "y": 0.9}]},
   "mark": {"type": "rule", "strokeDash": [7, 5], "strokeWidth": 1.5, "color": "black"},
   "encoding": {
    "x": {"field": "x1", "type": "quantitative", "scale": {"domain": [8.25, 11.85], "nice": false, "zero": false}, "axis": {"orient": "bottom", "values": [8.5, 9, 9.5, 10, 10.5, 11, 11.5], "format": ".1f", "tickSize": -7, "labelPadding": 7, "title": "log₁₀(Mₛₜₑₗₗₐᵣ/M☉)", "titleFontSize": 26, "titleX": 252, "titleY": 44, "titleAlign": "center", "titleBaseline": "alphabetic"}},
    "x2": {"field": "x2"},
    "y": {"field": "y", "type": "quantitative", "scale": {"domain": [0, 1.025], "nice": false}, "axis": {"orient": "left", "values": [0, 0.2, 0.4, 0.6, 0.8, 1.0], "format": ".1f", "tickSize": -7, "labelPadding": 12, "title": null}}
   }},
  {"transform": [{"filter": "datum.s == 'A'"}],
   "mark": {"type": "line", "color": "black", "strokeWidth": 2.5},
   "encoding": {
    "x": {"field": "x", "type": "quantitative", "axis": {"orient": "top", "values": [8.5, 9, 9.5, 10, 10.5, 11, 11.5], "labels": false, "tickSize": -7, "title": null}},
    "y": {"field": "y", "type": "quantitative", "axis": {"orient": "right", "values": [0, 0.2, 0.4, 0.6, 0.8, 1.0], "labels": false, "tickSize": -7, "title": null}}
   }},
  {"transform": [{"filter": "datum.s == 'A'"}],
   "mark": {"type": "point", "filled": true, "opacity": 1, "size": 110},
   "encoding": {
    "x": {"field": "x", "type": "quantitative", "axis": null},
    "y": {"field": "y", "type": "quantitative", "axis": null},
    "color": {"field": "s", "type": "nominal", "scale": {"domain": ["P", "C", "E", "B", "A"], "range": ["#0000ff", "#008000", "#ff0000", "#ffa500", "#000000"]}, "legend": {"values": ["P", "C", "E", "B"], "orient": "none", "legendX": 104, "legendY": 115, "title": null, "labelExpr": "datum.value == 'P' ? 'Pseudobulges' : datum.value == 'C' ? 'Classical bulges' : datum.value == 'E' ? 'Ellipticals' : 'Bulgeless'", "labelFontSize": 18, "labelColor": "black", "labelOffset": 14, "symbolSize": 70, "symbolOpacity": 1, "rowPadding": 1}},
    "shape": {"field": "s", "type": "nominal", "scale": {"domain": ["P", "C", "E", "B", "A"], "range": ["circle", "triangle-down", "triangle-up", "M0,-1L0.951,-0.309L0.588,0.809L-0.588,0.809L-0.951,-0.309Z", "M0,-1L0.235,-0.324L0.951,-0.309L0.38,0.124L0.588,0.809L0,0.4L-0.588,0.809L-0.38,0.124L-0.951,-0.309L-0.235,-0.324Z"]}, "legend": {"values": ["P", "C", "E", "B"], "orient": "none", "legendX": 104, "legendY": 115, "title": null, "labelExpr": "datum.value == 'P' ? 'Pseudobulges' : datum.value == 'C' ? 'Classical bulges' : datum.value == 'E' ? 'Ellipticals' : 'Bulgeless'", "labelFontSize": 18, "labelColor": "black", "labelOffset": 14, "symbolSize": 70, "symbolOpacity": 1, "rowPadding": 1}}
   }},
  {"transform": [{"filter": "datum.s != 'A'"}],
   "mark": {"type": "line", "strokeWidth": 1.2, "opacity": 0.55},
   "encoding": {
    "x": {"field": "x", "type": "quantitative", "axis": {"orient": "bottom", "values": [8.3, 8.4, 8.6, 8.7, 8.8, 8.9, 9.1, 9.2, 9.3, 9.4, 9.6, 9.7, 9.8, 9.9, 10.1, 10.2, 10.3, 10.4, 10.6, 10.7, 10.8, 10.9, 11.1, 11.2, 11.3, 11.4, 11.6, 11.7, 11.8], "labels": false, "domain": false, "tickSize": -3.5, "title": null}},
    "y": {"field": "y", "type": "quantitative", "axis": {"orient": "left", "values": [0.04, 0.08, 0.12, 0.16, 0.24, 0.28, 0.32, 0.36, 0.44, 0.48, 0.52, 0.56, 0.64, 0.68, 0.72, 0.76, 0.84, 0.88, 0.92, 0.96], "labels": false, "domain": false, "tickSize": -3.5, "title": null}},
    "color": {"field": "s", "type": "nominal", "legend": null}
   }},
  {"transform": [{"filter": "datum.s != 'A'"}],
   "mark": {"type": "point", "filled": true, "opacity": 0.55, "size": 42, "stroke": "#555555", "strokeWidth": 0.6},
   "encoding": {
    "x": {"field": "x", "type": "quantitative", "axis": {"orient": "top", "values": [8.3, 8.4, 8.6, 8.7, 8.8, 8.9, 9.1, 9.2, 9.3, 9.4, 9.6, 9.7, 9.8, 9.9, 10.1, 10.2, 10.3, 10.4, 10.6, 10.7, 10.8, 10.9, 11.1, 11.2, 11.3, 11.4, 11.6, 11.7, 11.8], "labels": false, "domain": false, "tickSize": -3.5, "title": null}},
    "y": {"field": "y", "type": "quantitative", "axis": {"orient": "right", "values": [0.04, 0.08, 0.12, 0.16, 0.24, 0.28, 0.32, 0.36, 0.44, 0.48, 0.52, 0.56, 0.64, 0.68, 0.72, 0.76, 0.84, 0.88, 0.92, 0.96], "labels": false, "domain": false, "tickSize": -3.5, "title": null}},
    "color": {"field": "s", "type": "nominal", "legend": null},
    "shape": {"field": "s", "type": "nominal", "legend": null}
   }},
  {"data": {"values": [{"t": "z"}]},
   "mark": {"type": "text", "align": "left", "baseline": "middle", "fontStyle": "italic"},
   "encoding": {"x": {"datum": 8.3, "type": "quantitative", "axis": null}, "y": {"datum": 0.3, "type": "quantitative", "axis": null}, "text": {"field": "t"}}},
  {"data": {"values": [{"t": "= 2.07"}]},
   "mark": {"type": "text", "align": "left", "baseline": "middle", "dx": 13},
   "encoding": {"x": {"datum": 8.3, "type": "quantitative", "axis": null}, "y": {"datum": 0.3, "type": "quantitative", "axis": null}, "text": {"field": "t"}}}
 ]},
{"width": 274, "height": 213, "data": {"name": "d"},
 "resolve": {"axis": {"x": "independent", "y": "independent"}},
 "layer": [
  {"data": {"values": [{"x1": 8.25, "x2": 11.85, "y": 0.9}]},
   "mark": {"type": "rule", "strokeDash": [7, 5], "strokeWidth": 1.5, "color": "black"},
   "encoding": {
    "x": {"field": "x1", "type": "quantitative", "scale": {"domain": [8.25, 11.85], "nice": false, "zero": false}, "axis": {"orient": "bottom", "values": [8.5, 9, 9.5, 10, 10.5, 11, 11.5], "format": ".1f", "tickSize": -7, "labelPadding": 7, "title": null}},
    "x2": {"field": "x2"},
    "y": {"field": "y", "type": "quantitative", "scale": {"domain": [0, 1.025], "nice": false}, "axis": {"orient": "left", "values": [0, 0.2, 0.4, 0.6, 0.8, 1.0], "labels": false, "tickSize": -7, "title": null}}
   }},
  {"transform": [{"filter": "datum.s == 'A'"}],
   "mark": {"type": "line", "color": "black", "strokeWidth": 2.5},
   "encoding": {
    "x": {"field": "x", "type": "quantitative", "axis": {"orient": "top", "values": [8.5, 9, 9.5, 10, 10.5, 11, 11.5], "labels": false, "tickSize": -7, "title": null}},
    "y": {"field": "y", "type": "quantitative", "axis": {"orient": "right", "values": [0, 0.2, 0.4, 0.6, 0.8, 1.0], "labels": false, "tickSize": -7, "title": null}}
   }},
  {"transform": [{"filter": "datum.s == 'A'"}],
   "mark": {"type": "point", "filled": true, "opacity": 1, "size": 110},
   "encoding": {
    "x": {"field": "x", "type": "quantitative", "axis": null},
    "y": {"field": "y", "type": "quantitative", "axis": null},
    "color": {"field": "s", "type": "nominal", "scale": {"domain": ["P", "C", "E", "B", "A"], "range": ["#0000ff", "#008000", "#ff0000", "#ffa500", "#000000"]}, "legend": null},
    "shape": {"field": "s", "type": "nominal", "scale": {"domain": ["P", "C", "E", "B", "A"], "range": ["circle", "triangle-down", "triangle-up", "M0,-1L0.951,-0.309L0.588,0.809L-0.588,0.809L-0.951,-0.309Z", "M0,-1L0.235,-0.324L0.951,-0.309L0.38,0.124L0.588,0.809L0,0.4L-0.588,0.809L-0.38,0.124L-0.951,-0.309L-0.235,-0.324Z"]}, "legend": null}
   }},
  {"transform": [{"filter": "datum.s != 'A'"}],
   "mark": {"type": "line", "strokeWidth": 1.2, "opacity": 0.55},
   "encoding": {
    "x": {"field": "x", "type": "quantitative", "axis": {"orient": "bottom", "values": [8.3, 8.4, 8.6, 8.7, 8.8, 8.9, 9.1, 9.2, 9.3, 9.4, 9.6, 9.7, 9.8, 9.9, 10.1, 10.2, 10.3, 10.4, 10.6, 10.7, 10.8, 10.9, 11.1, 11.2, 11.3, 11.4, 11.6, 11.7, 11.8], "labels": false, "domain": false, "tickSize": -3.5, "title": null}},
    "y": {"field": "y", "type": "quantitative", "axis": {"orient": "left", "values": [0.04, 0.08, 0.12, 0.16, 0.24, 0.28, 0.32, 0.36, 0.44, 0.48, 0.52, 0.56, 0.64, 0.68, 0.72, 0.76, 0.84, 0.88, 0.92, 0.96], "labels": false, "domain": false, "tickSize": -3.5, "title": null}},
    "color": {"field": "s", "type": "nominal", "legend": null}
   }},
  {"transform": [{"filter": "datum.s != 'A'"}],
   "mark": {"type": "point", "filled": true, "opacity": 0.55, "size": 42, "stroke": "#555555", "strokeWidth": 0.6},
   "encoding": {
    "x": {"field": "x", "type": "quantitative", "axis": {"orient": "top", "values": [8.3, 8.4, 8.6, 8.7, 8.8, 8.9, 9.1, 9.2, 9.3, 9.4, 9.6, 9.7, 9.8, 9.9, 10.1, 10.2, 10.3, 10.4, 10.6, 10.7, 10.8, 10.9, 11.1, 11.2, 11.3, 11.4, 11.6, 11.7, 11.8], "labels": false, "domain": false, "tickSize": -3.5, "title": null}},
    "y": {"field": "y", "type": "quantitative", "axis": {"orient": "right", "values": [0.04, 0.08, 0.12, 0.16, 0.24, 0.28, 0.32, 0.36, 0.44, 0.48, 0.52, 0.56, 0.64, 0.68, 0.72, 0.76, 0.84, 0.88, 0.92, 0.96], "labels": false, "domain": false, "tickSize": -3.5, "title": null}},
    "color": {"field": "s", "type": "nominal", "legend": null},
    "shape": {"field": "s", "type": "nominal", "legend": null}
   }},
  {"data": {"values": [{"t": "z"}]},
   "mark": {"type": "text", "align": "left", "baseline": "middle", "fontStyle": "italic"},
   "encoding": {"x": {"datum": 8.3, "type": "quantitative", "axis": null}, "y": {"datum": 0.3, "type": "quantitative", "axis": null}, "text": {"field": "t"}}},
  {"data": {"values": [{"t": "= 3.11"}]},
   "mark": {"type": "text", "align": "left", "baseline": "middle", "dx": 13},
   "encoding": {"x": {"datum": 8.3, "type": "quantitative", "axis": null}, "y": {"datum": 0.3, "type": "quantitative", "axis": null}, "text": {"field": "t"}}}
 ]}
]
}
